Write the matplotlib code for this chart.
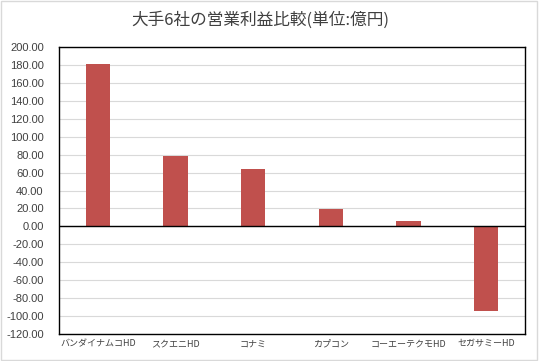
import matplotlib.pyplot as plt
from matplotlib.patches import Rectangle

plt.rcParams['font.family'] = ['Noto Sans CJK JP', 'DejaVu Sans']

# 会社名と営業利益(億円)
companies = ["バンダイナムコHD", "スクエニHD", "コナミ", "カプコン", "コーエーテクモHD", "セガサミーHD"]
profits = [181.0, 79.0, 64.0, 19.0, 6.0, -94.0]
yticks = list(range(-120, 201, 20))

fig = plt.figure(figsize=(5.39, 3.61), dpi=100)
ax = fig.add_axes([59 / 539, 1 - 334 / 361, 466 / 539, 287 / 361])

x = list(range(len(companies)))
ax.bar(x, profits, width=0.31, color="#C0504D", zorder=3)

ax.set_xlim(-0.5, len(companies) - 0.5)
ax.set_ylim(-120, 200)
ax.set_yticks(yticks)
ax.set_yticklabels([f"{v:.2f}" for v in yticks], fontsize=8, color="#404040",
                   family=["Liberation Sans"])
ax.set_xticks(x)
ax.set_xticklabels(companies, fontsize=6.5, color="#404040")
ax.tick_params(length=0)
ax.tick_params(axis="x", pad=4)
ax.tick_params(axis="y", pad=11)

ax.grid(axis="y", color="#D9D9D9", linewidth=0.8, zorder=0)
ax.axhline(0, color="black", linewidth=1, zorder=4)
for s in ax.spines.values():
    s.set_color("black")
    s.set_linewidth(1)

fig.text(260 / 539, 1 - 20 / 361, "大手6社の営業利益比較(単位:億円)", ha="center", va="center",
         fontsize=12, color="#404040")
fig.patches.append(Rectangle((0.002, 0.003), 0.995, 0.994, transform=fig.transFigure,
                             fill=False, edgecolor="#D9D9D9", linewidth=1))

fig.savefig("out.png", dpi=100)
